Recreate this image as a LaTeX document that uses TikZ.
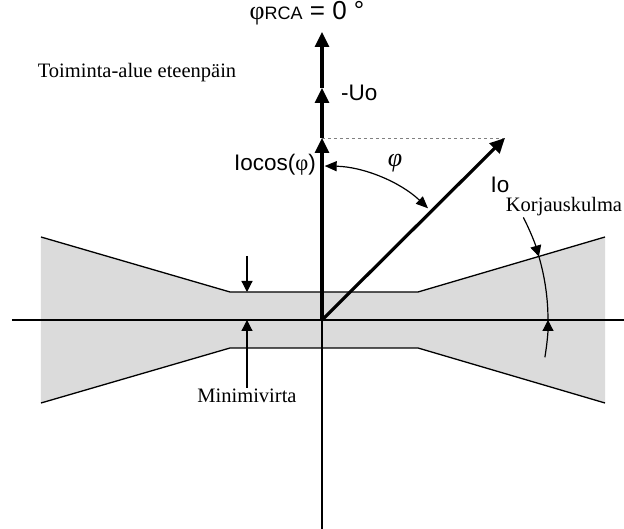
\documentclass[tikz,border=0pt]{standalone}
\usepackage{fontspec}
\setmainfont{Liberation Serif}
\newfontfamily\arialfont{Liberation Sans}
\usetikzlibrary{arrows.meta}
\tikzset{
  vec/.style={line width=3.2pt,-{Triangle[length=15pt,width=14pt]}},
  thinline/.style={line width=1.3pt},
  dim/.style={line width=1.2pt,-{Triangle[length=11pt,width=11pt]}},
  lbl/.style={font=\arialfont\fontsize{22.5}{26}\selectfont,inner sep=1pt},
  txt/.style={font=\fontsize{20.5}{24}\selectfont,inner sep=1pt}
}
\begin{document}
\begin{tikzpicture}[x=1pt,y=1pt]
\useasboundingbox (-322,-209) rectangle (302,320);
% operating zone
\fill[gray!28] (-281,83) -- (-92,28) -- (96,28) -- (283,83) -- (283,-83) -- (96,-28) -- (-92,-28) -- (-281,-83) -- cycle;
\draw[thinline] (-281,83) -- (-92,28) -- (96,28) -- (283,83);
\draw[thinline] (-281,-83) -- (-92,-28) -- (96,-28) -- (283,-83);
% axes
\coordinate (O) at (0,0);
\coordinate (xl) at (-310,0); \coordinate (xr) at (302,0); \coordinate (yb) at (0,-209);
\draw[thinline] (xl) -- (xr);
\draw[thinline] (O) -- (yb);
% phasors
\coordinate (c1) at (0,182); \coordinate (c2) at (0,232); \coordinate (c3) at (0,288);
\coordinate (io) at (183,182);
\draw[gray,dashed,thin] (c1) -- (io);
\draw[vec] (O) -- (c1);
\draw[vec] (c1) -- (c2);
\draw[vec] (c2) -- (c3);
\draw[vec] (O) -- (io);
\draw[line width=1.2pt,{Triangle[length=12pt,width=10pt]}-{Triangle[length=12pt,width=10pt]}] (89:154) arc (89:46.5:154);
% minimum current
\coordinate (m1) at (-75,64); \coordinate (m2) at (-75,28); \coordinate (m4) at (-75,0);
\node[txt,below] (mv) at (-75,-68) {Minimivirta};
\draw[dim] (m1) -- (m2);
\draw[dim] (mv.north) -- (m4);
% correction angle
\draw[dim] (27:226) arc (27:16.3:226);
\draw[line width=1.2pt] (16.3:226) arc (16.3:0:226);
\draw[dim] (-9.5:226) arc (-9.5:0:226);
% labels
\node[lbl,font=\arialfont\fontsize{26}{30}\selectfont] (rca) at (-15,307) {{\rmfamily φ}{\fontsize{18}{18}\selectfont RCA} = 0 °};
\node[lbl,anchor=west] (uo) at (18,227) {-Uo};
\node[lbl,anchor=east] (iocos) at (-5,155) {Iocos({\rmfamily φ})};
\node[lbl] (iol) at (178,135) {Io};
\node[txt,font=\fontsize{26}{30}\selectfont\itshape] (phi) at (73,157) {φ};
\node[txt] (zone) at (-185,247) {Toiminta-alue eteenpäin};
\node[txt] (korj) at (242,113) {Korjauskulma};
\end{tikzpicture}
\end{document}
